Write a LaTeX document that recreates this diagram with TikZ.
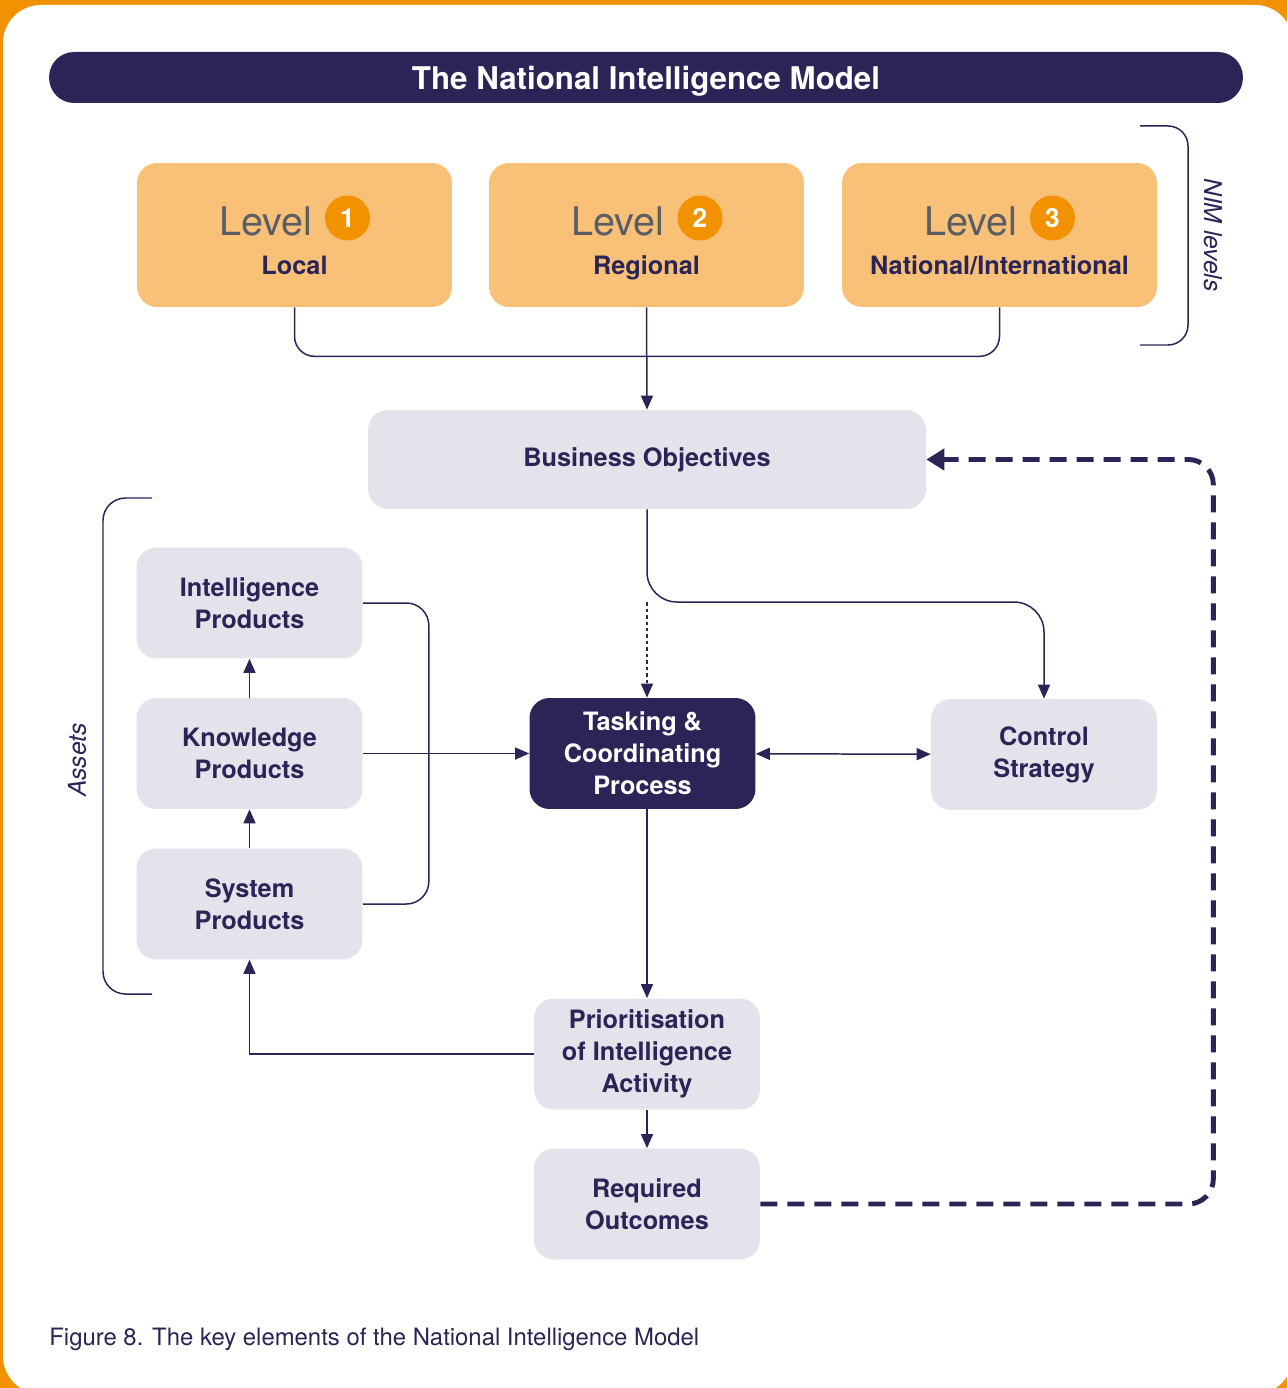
\documentclass[tikz,border=0pt]{standalone}
\usepackage{fontspec}
\setmainfont{TeX Gyre Heros}
\usetikzlibrary{arrows.meta, positioning, calc}

\definecolor{nimnavy}{HTML}{2A2556}
\definecolor{nimgrey}{HTML}{E4E2EB}
\definecolor{nimpeach}{HTML}{F9C077}
\definecolor{nimorange}{HTML}{F39200}
\definecolor{nimtext}{HTML}{5A5D63}

\begin{document}
\begin{tikzpicture}[
      x=0.02cm, y=-0.02cm,
      titlebar/.style={rectangle, rounded corners=0.5cm, fill=nimnavy,
                    minimum width=23.88cm, minimum height=1.02cm, text depth=0pt,
                    text=white, font=\fontsize{17.8}{20}\selectfont\bfseries},
      levelbox/.style={rectangle, rounded corners=0.4cm, fill=nimpeach,
                    minimum width=6.3cm, minimum height=2.88cm},
      greybox/.style={rectangle, rounded corners=0.4cm, fill=nimgrey,
                    minimum width=4.52cm, minimum height=2.22cm,
                    align=center, text=nimnavy,
                    font=\fontsize{14.4}{18.2}\selectfont\bfseries},
      navybox/.style={greybox, fill=nimnavy, text=white},
      levelword/.style={anchor=base, text=nimtext, font=\fontsize{22.5}{26}\selectfont},
      levelnum/.style={circle, fill=nimorange, text=white, minimum size=0.9cm,
                    inner sep=0pt, font=\fontsize{15}{18}\selectfont\bfseries},
      levelname/.style={anchor=base, text=nimnavy, font=\fontsize{14.4}{18}\selectfont\bfseries},
      sidelabel/.style={text=nimnavy, font=\fontsize{14}{17}\selectfont\itshape},
      link/.style={draw=nimnavy, line width=0.85pt},
      arrow/.style={link, -{Triangle[length=2.8mm, width=2.4mm]}},
      feedback/.style={draw=nimnavy, line width=2.8pt, dash pattern=on 0.34cm off 0.2cm,
                    rounded corners=0.5cm, -{Triangle[length=3.6mm, width=4.2mm]}}
    ]
        \useasboundingbox (0,0) rectangle (1287,1388);
        \fill[nimorange] (0,0) rectangle (1287,1388);
        \fill[white, rounded corners=0.76cm] (3,5) rectangle (1293,1394);

        \node[titlebar] (title) at (646,77.5) {The National Intelligence Model};

        % NIM levels
        \node[levelbox] (lvlA) at (294.5,235) {};
        \node[levelbox] (lvlB) at (646.5,235) {};
        \node[levelbox] (lvlC) at (999.5,235) {};
        \node[levelword] (wordA) at (266,236) {Level};
        \node[levelword] (wordB) at (618,236) {Level};
        \node[levelword] (wordC) at (971,236) {Level};
        \node[levelnum] (numA) at (347.5,218) {1};
        \node[levelnum] (numB) at (700,218) {2};
        \node[levelnum] (numC) at (1052.5,218) {3};
        \node[levelname] (nameA) at (294.5,275) {Local};
        \node[levelname] (nameB) at (646.5,275) {Regional};
        \node[levelname] (nameC) at (999.5,275) {National/International};

        \draw[link, rounded corners=0.4cm] (1140,126) -- (1188,126) -- (1188,345) -- (1140,345);
        \node[sidelabel, rotate=-90] (nimlabel) at (1213,235) {NIM levels};

        \node[greybox, minimum width=11.16cm, minimum height=1.98cm] (objectives) at (647,459.5) {Business Objectives};

        % assets
        \node[greybox] (intel) at (249.5,603) {Intelligence\\Products};
        \node[greybox] (knowledge) at (249.5,753.5) {Knowledge\\Products};
        \node[greybox] (system) at (249.5,904) {System\\Products};
        \draw[link, rounded corners=0.45cm] (152,498) -- (103,498) -- (103,994) -- (152,994);
        \node[sidelabel, rotate=90] (assetlabel) at (77,760) {Assets};

        \node[navybox] (tasking) at (642.5,753.5) {Tasking \&\\Coordinating\\Process};
        \node[greybox] (control) at (1044,754.5) {Control\\Strategy};
        \node[greybox] (prio) at (647,1054) {Prioritisation\\of Intelligence\\Activity};
        \node[greybox] (outcomes) at (647,1204) {Required\\Outcomes};
        \coordinate (split) at (647,602);

        \draw[link, rounded corners=0.4cm] (lvlA.south) -- ++(0,49) -| (lvlC.south);
        \draw[arrow] (lvlB.south) -- (objectives.north);
        \draw[arrow, rounded corners=0.6cm] (objectives.south) -- (split) -| (control.north);
        \draw[arrow, dash pattern=on 0.7mm off 0.6mm] (split) -- (split |- tasking.north);
        \draw[link, {Triangle[length=2.8mm, width=2.4mm]}-{Triangle[length=2.8mm, width=2.4mm]}] (tasking) -- (control);
        \draw[arrow] (knowledge) -- (tasking);
        \draw[link, rounded corners=0.45cm] (intel.east) -- ++(66,0) |- (system.east);
        \draw[arrow] (knowledge) -- (intel);
        \draw[arrow] (system) -- (knowledge);
        \draw[arrow] (split |- tasking.south) -- (prio.north);
        \draw[arrow] (prio.west) -| (system.south);
        \draw[arrow] (prio) -- (outcomes);
        \draw[feedback] (outcomes.east) -- ++(453,0) |- (objectives.east);

        \node[anchor=base west, inner sep=0pt, text=nimnavy, font=\fontsize{13.6}{16}\selectfont] (caption) at (49,1345)
            {Figure 8. The key elements of the National Intelligence Model};
    \end{tikzpicture}
\end{document}
